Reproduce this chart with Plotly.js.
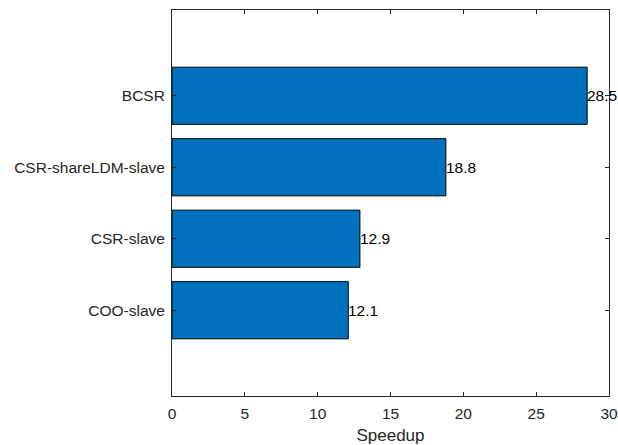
<!DOCTYPE html>
<html>
<head>
<meta charset="utf-8">
<script src="https://cdn.plot.ly/plotly-3.0.1.min.js"></script>
<style>
  html, body { margin: 0; padding: 0; background: #ffffff; }
  #chart { width: 618px; height: 445px; }
</style>
</head>
<body>
<div id="chart"></div>
<script>
// Storage formats, listed bottom to top
const methods = ['COO-slave', 'CSR-slave', 'CSR-shareLDM-slave', 'BCSR'];
const speedups = [12.1, 12.9, 18.8, 28.5];
const xTicks = [0, 5, 10, 15, 20, 25, 30];

const font = 'Liberation Sans, Arial, Helvetica, sans-serif';
const ink = '#262626';

const bars = {
  type: 'bar',
  orientation: 'h',
  x: speedups,
  y: methods,
  width: 0.8,
  marker: { color: '#0072BD', line: { color: '#000000', width: 1 } },
  hoverinfo: 'skip'
};

// value labels sit just past the end of each bar
const labels = speedups.map((v, i) => ({
  x: v, y: methods[i], xref: 'x', yref: 'y',
  text: v.toFixed(1), showarrow: false,
  xanchor: 'left', yanchor: 'middle', xshift: -2,
  font: { family: font, size: 15.5, color: '#000000' }
}));

const layout = {
  width: 618, height: 445,
  margin: { l: 172, r: 9, t: 10, b: 49 },
  paper_bgcolor: '#ffffff', plot_bgcolor: '#ffffff',
  showlegend: false,
  font: { family: font, size: 15.5, color: ink },
  xaxis: {
    range: [0, 30],
    tickvals: xTicks,
    ticktext: xTicks.map(String),
    ticks: 'inside', ticklen: 4, tickwidth: 1, tickcolor: ink,
    showline: true, linecolor: ink, linewidth: 1, mirror: 'ticks',
    showgrid: false, zeroline: false,
    ticklabelstandoff: 3,
    tickfont: { family: font, size: 15.5, color: ink },
    title: { text: 'Speedup', font: { family: font, size: 17, color: ink }, standoff: 8 }
  },
  yaxis: {
    type: 'category',
    categoryorder: 'array', categoryarray: methods,
    range: [-1.2, 4.2],
    ticks: 'inside', ticklen: 4, tickwidth: 1, tickcolor: ink,
    showline: true, linecolor: ink, linewidth: 1, mirror: 'ticks',
    showgrid: false, zeroline: false,
    ticklabelstandoff: 3,
    tickfont: { family: font, size: 15.5, color: ink }
  },
  annotations: labels
};

Plotly.newPlot('chart', [bars], layout, { displayModeBar: false, staticPlot: true });
</script>
</body>
</html>
